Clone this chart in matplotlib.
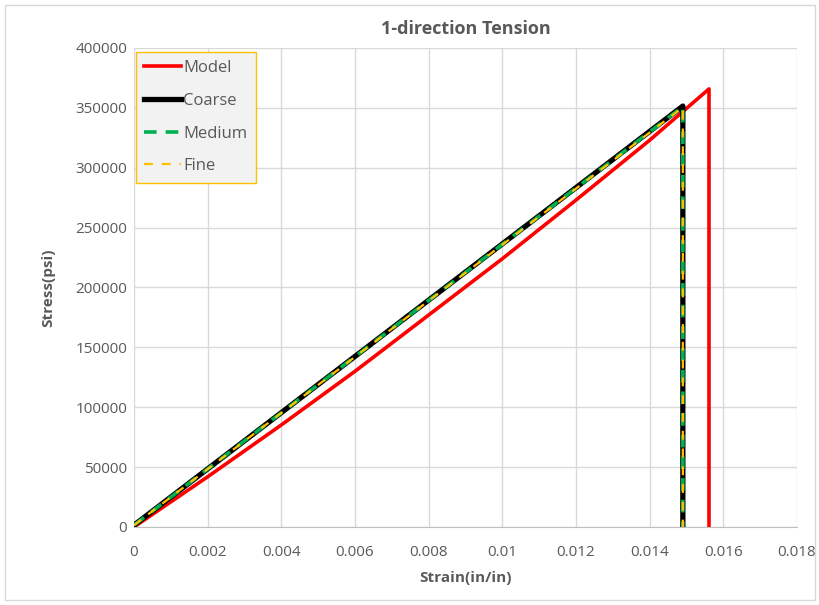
import matplotlib
matplotlib.use("Agg")
import matplotlib.pyplot as plt
from matplotlib.patches import Rectangle

plt.rcParams['font.family'] = ['Open Sans', 'DejaVu Sans']

series_names = ["Model", "Coarse", "Medium", "Fine"]
model_strain = [0.0, 0.002, 0.004, 0.006, 0.008, 0.010, 0.012, 0.014, 0.01561, 0.01561]
model_stress = [0, 41900, 85200, 130000, 177000, 224000, 273000, 323000, 365800, 0]
coarse_strain = [0.0, 0.01490, 0.01490]
coarse_stress = [1500, 351500, 0]
medium_strain = [0.0, 0.01490, 0.01490]
medium_stress = [1500, 351000, 0]
fine_strain = [0.0, 0.01490, 0.01490]
fine_stress = [1500, 350500, 0]

x_ticks = [0, 0.002, 0.004, 0.006, 0.008, 0.01, 0.012, 0.014, 0.016, 0.018]
x_labels = ["0", "0.002", "0.004", "0.006", "0.008", "0.01", "0.012", "0.014", "0.016", "0.018"]
y_ticks = [0, 50000, 100000, 150000, 200000, 250000, 300000, 350000, 400000]

fig = plt.figure(figsize=(8.2, 6.05), dpi=100)
fig.patches.append(Rectangle((0.006, 0.008), 0.988, 0.984, transform=fig.transFigure,
                             fill=False, edgecolor='#d9d9d9', linewidth=1))
ax = fig.add_axes([0.1634, 0.129, 0.8086, 0.7917])

ax.plot(model_strain, model_stress, color='#ff0000', lw=2.6, label=series_names[0], zorder=3)
ax.plot(coarse_strain, coarse_stress, color='#000000', lw=3.8, label=series_names[1], zorder=4)
ax.plot(medium_strain, medium_stress, color='#00b050', lw=2.6, ls=(0, (3.5, 2.5)), label=series_names[2], zorder=5)
ax.plot(fine_strain, fine_stress, color='#ffc000', lw=1.6, ls=(0, (4, 4)), label=series_names[3], zorder=6)

ax.set_xlim(0, 0.018)
ax.set_ylim(0, 400000)
ax.set_xticks(x_ticks)
ax.set_xticklabels(x_labels)
ax.set_yticks(y_ticks)
ax.set_yticklabels([str(v) for v in y_ticks])
ax.grid(True, color='#d9d9d9', lw=1)
ax.set_axisbelow(True)
for s in ['top', 'right', 'left']:
    ax.spines[s].set_visible(False)
ax.spines['bottom'].set_color('#bfbfbf')
ax.tick_params(length=0, labelsize=11, colors='#595959')
ax.tick_params(axis='x', pad=13)
ax.tick_params(axis='y', pad=5)

ax.set_title("1-direction Tension", fontsize=13, fontweight='bold', color='#595959', pad=10)
ax.set_xlabel("Strain(in/in)", fontsize=11, fontweight='bold', color='#595959', labelpad=8)
ax.set_ylabel("Stress(psi)", fontsize=11, fontweight='bold', color='#595959', labelpad=14)

leg = ax.legend(loc='upper left', bbox_to_anchor=(0.003, 0.9916), borderaxespad=0,
                fontsize=12, frameon=True, fancybox=False, facecolor='#f2f2f2',
                edgecolor='#ffc000', framealpha=1, handlelength=2.2, handletextpad=0.15,
                labelspacing=1.0, borderpad=0.5)
for t in leg.get_texts():
    t.set_color('#595959')
leg.get_frame().set_linewidth(1)

fig.savefig("out.png", dpi=100)
